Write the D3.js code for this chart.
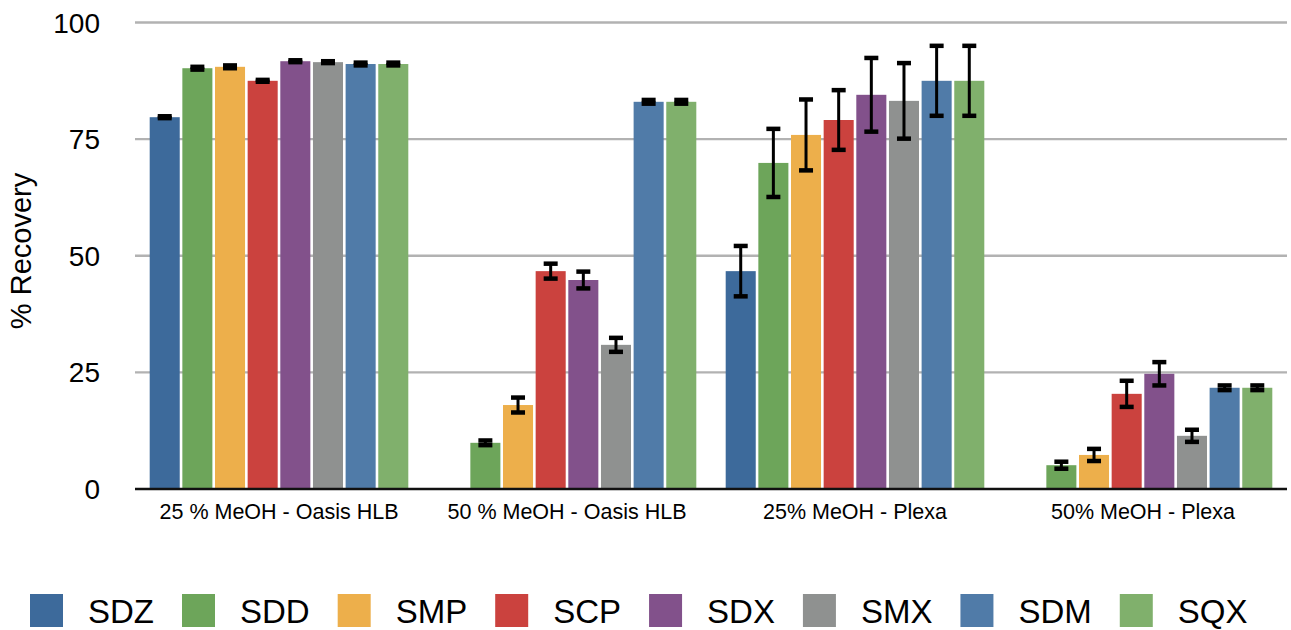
<!DOCTYPE html>
<html>
<head>
<meta charset="utf-8">
<script src="https://cdnjs.cloudflare.com/ajax/libs/d3/7.8.5/d3.min.js"></script>
<style>
  body { margin: 0; background: #fff; }
  text { font-family: "Liberation Sans", Arial, Helvetica, sans-serif; fill: #000; }
</style>
</head>
<body>
<div id="chart"></div>
<script>
const w = 1291,
    h = 630;

// data
var groups = ["25 % MeOH - Oasis HLB", "50 % MeOH - Oasis HLB", "25% MeOH - Plexa", "50% MeOH - Plexa"];
var series = ["SDZ", "SDD", "SMP", "SCP", "SDX", "SMX", "SDM", "SQX"];
var colors = ["#3d6a9b", "#6da55a", "#edaf4b", "#cb423e", "#82518b", "#8f9190", "#507ba8", "#80b06c"];
var yTicks = [0, 25, 50, 75, 100];

var SDZ = [79.7, 0, 46.7, 0];
var SDD = [90.2, 9.9, 69.9, 5.1];
var SMP = [90.5, 18.0, 75.9, 7.3];
var SCP = [87.5, 46.7, 79.1, 20.4];
var SDX = [91.7, 44.8, 84.5, 24.7];
var SMX = [91.5, 30.9, 83.2, 11.4];
var SDM = [91.1, 83.0, 87.5, 21.7];
var SQX = [91.1, 83.0, 87.5, 21.7];

var errSDZ = [0.2, 0, 5.4, 0];
var errSDD = [0.3, 0.5, 7.3, 0.75];
var errSMP = [0.3, 1.6, 7.6, 1.3];
var errSCP = [0.2, 1.6, 6.4, 2.8];
var errSDX = [0.2, 1.8, 7.9, 2.5];
var errSMX = [0.2, 1.5, 8.1, 1.3];
var errSDM = [0.3, 0.4, 7.5, 0.5];
var errSQX = [0.3, 0.4, 7.5, 0.5];

var values = [SDZ, SDD, SMP, SCP, SDX, SMX, SDM, SQX];
var errors = [errSDZ, errSDD, errSMP, errSCP, errSDX, errSMX, errSDM, errSQX];

// flat table for drawing
var rows = [];
groups.forEach(function (g, gi) {
    series.forEach(function (s, si) {
        rows.push({ group: g, series: s, value: values[si][gi], err: errors[si][gi], color: colors[si] });
    });
});

const svg = d3.select("#chart")
    .append("svg")
    .attr("width", w)
    .attr("height", h);

var x0 = d3.scaleBand()
    .domain(groups)
    .range([135, 1287]);

var x1 = d3.scaleBand()
    .domain(series)
    .range([0, x0.bandwidth()])
    .paddingInner(0.08)
    .paddingOuter(0.45);

var y = d3.scaleLinear()
    .domain([0, 100])
    .range([489, 22.5]);

// grid
svg.append("g")
    .selectAll("line")
    .data(yTicks.filter(function (d) { return d > 0; }))
    .enter()
    .append("line")
    .attr("x1", 135)
    .attr("x2", 1287)
    .attr("y1", function (d) { return y(d); })
    .attr("y2", function (d) { return y(d); })
    .style("stroke", "#b2b2b2")
    .style("stroke-width", 2.4);

// y tick labels
svg.append("g")
    .selectAll("text")
    .data(yTicks)
    .enter()
    .append("text")
    .attr("x", 100)
    .attr("y", function (d) { return y(d); })
    .attr("dy", "0.36em")
    .attr("text-anchor", "end")
    .style("font-size", "28px")
    .text(function (d) { return d; });

// y title
svg.append("text")
    .attr("transform", "translate(31,251) rotate(-90)")
    .attr("text-anchor", "middle")
    .style("font-size", "29px")
    .text("% Recovery");

// bars
var bars = svg.append("g")
    .selectAll("rect")
    .data(rows.filter(function (d) { return d.value > 0; }))
    .enter()
    .append("rect")
    .attr("x", function (d) { return x0(d.group) + x1(d.series); })
    .attr("y", function (d) { return y(d.value); })
    .attr("width", x1.bandwidth())
    .attr("height", function (d) { return y(0) - y(d.value); })
    .style("fill", function (d) { return d.color; });

// error bars
var eb = svg.append("g")
    .selectAll("g")
    .data(rows.filter(function (d) { return d.value > 0; }))
    .enter()
    .append("g")
    .attr("transform", function (d) {
        return "translate(" + (x0(d.group) + x1(d.series) + x1.bandwidth() / 2) + ",0)";
    });

eb.append("line")
    .attr("x1", 0)
    .attr("x2", 0)
    .attr("y1", function (d) { return y(d.value + d.err); })
    .attr("y2", function (d) { return y(d.value - d.err); })
    .style("stroke", "#000")
    .style("stroke-width", 3);

eb.append("rect")
    .attr("x", -7)
    .attr("width", 14)
    .attr("height", 4.5)
    .attr("y", function (d) { return y(d.value + d.err) - 2.25; })
    .style("fill", "#000");

eb.append("rect")
    .attr("x", -7)
    .attr("width", 14)
    .attr("height", 4.5)
    .attr("y", function (d) { return y(d.value - d.err) - 2.25; })
    .style("fill", "#000");

// baseline
svg.append("line")
    .attr("x1", 135)
    .attr("x2", 1287)
    .attr("y1", y(0))
    .attr("y2", y(0))
    .style("stroke", "#111")
    .style("stroke-width", 2.4);

// group labels
svg.append("g")
    .selectAll("text")
    .data(groups)
    .enter()
    .append("text")
    .attr("x", function (d) { return x0(d) + x0.bandwidth() / 2; })
    .attr("y", 519)
    .attr("text-anchor", "middle")
    .style("font-size", "21.5px")
    .text(function (d) { return d; });

// legend, laid out left to right
var lx = 30;
series.forEach(function (s, i) {
    svg.append("rect")
        .attr("x", lx)
        .attr("y", 594)
        .attr("width", 33)
        .attr("height", 33)
        .style("fill", colors[i]);
    var t = svg.append("text")
        .attr("x", lx + 58)
        .attr("y", 623)
        .style("font-size", "33px")
        .text(s);
    var tw = t.node().getComputedTextLength();
    lx = lx + 58 + tw + 28;
});
</script>
</body>
</html>
